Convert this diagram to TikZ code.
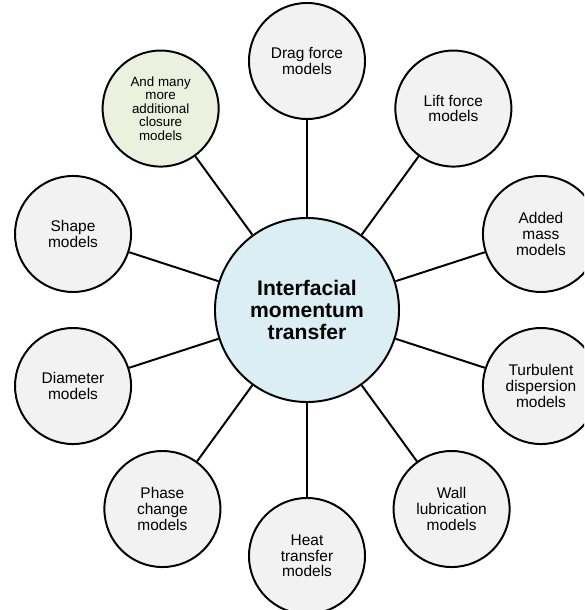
\documentclass[tikz,border=0pt]{standalone}
\usepackage{fontspec}
\setmainfont{Liberation Sans}
\definecolor{hubblue}{RGB}{218, 238, 243}
\definecolor{leafgray}{RGB}{242, 242, 242}
\definecolor{moregreen}{RGB}{235, 241, 222}
\begin{document}
\begin{tikzpicture}[
        x=0.025cm, y=0.025cm,
        hub/.style={circle, draw=black, line width=1.4pt, fill=hubblue,
                    minimum size=4.6cm, inner sep=0pt, align=center,
                    font=\bfseries\fontsize{15}{15.8}\selectfont},
        leaf/.style={circle, draw=black, line width=1.4pt, fill=leafgray,
                     minimum size=2.9cm, inner sep=0pt, align=center,
                     font=\fontsize{11}{11.2}\selectfont},
        link/.style={line width=1.4pt, color=black}
      ]
        \clip (-307,-300) rectangle (277,310);
        \node[hub] (imt) at (0,0) {Interfacial\\momentum\\transfer};
        \node[leaf] (drag)  at (90:249)   {Drag force\\models};
        \node[leaf] (lift)  at (54:249)   {Lift force\\models};
        \node[leaf] (added) at (18:246)   {Added\\mass\\models};
        \node[leaf] (turb)  at (-18:246)  {Turbulent\\dispersion\\models};
        \node[leaf] (wall)  at (-54:246)  {Wall\\lubrication\\models};
        \node[leaf] (heat)  at (-90:246)  {Heat\\transfer\\models};
        \node[leaf] (phase) at (-126:246) {Phase\\change\\models};
        \node[leaf] (diam)  at (-162:246) {Diameter\\models};
        \node[leaf] (shape) at (162:246)  {Shape\\models};
        \node[leaf, fill=moregreen, font=\fontsize{9.5}{9.6}\selectfont]
              (more)  at (126:249) {And many\\more\\additional\\closure\\models};
        \draw[link] (imt) -- (drag);
        \draw[link] (imt) -- (lift);
        \draw[link] (imt) -- (added);
        \draw[link] (imt) -- (turb);
        \draw[link] (imt) -- (wall);
        \draw[link] (imt) -- (heat);
        \draw[link] (imt) -- (phase);
        \draw[link] (imt) -- (diam);
        \draw[link] (imt) -- (shape);
        \draw[link] (imt) -- (more);
      \end{tikzpicture}
\end{document}
